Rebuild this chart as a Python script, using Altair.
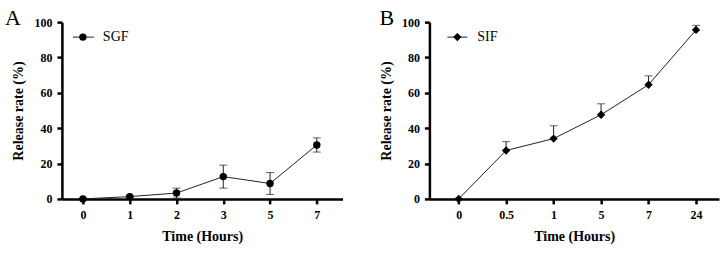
import altair as alt
import pandas as pd

# ---- data ----
a_time = ["0", "1", "2", "3", "5", "7"]
a_mean = [0.0, 1.3, 3.3, 12.6, 8.7, 30.5]
a_sd = [0.4, 0.5, 2.8, 6.5, 6.2, 4.0]
a_name = "SGF"

b_time = ["0", "0.5", "1", "5", "7", "24"]
b_mean = [0.0, 27.4, 34.1, 47.6, 64.6, 95.6]
b_sd = [0.3, 5.0, 7.3, 6.2, 5.0, 2.6]
b_name = "SIF"

y_ticks = [0, 20, 40, 60, 80, 100]

FONT = "'Liberation Serif', 'Times New Roman', Times, serif"


def panel(letter, times, mean, sd, name, shape, size, width, two_sided,
          pad, align, leg, letter_x):
    df = pd.DataFrame({"t": times, "m": mean, "s": sd})
    df["lo"] = df["m"] - df["s"]
    df["hi"] = df["m"] + df["s"]
    if not two_sided:
        df["lo"] = df["m"]

    common = dict(grid=False, labelFont=FONT, labelFontWeight="bold",
                  labelFontSize=12, labelColor="black", titleFont=FONT,
                  titleFontWeight="bold", titleFontSize=14,
                  titleColor="black", domainColor="black", domainWidth=2.5,
                  tickColor="black", tickWidth=2.5, tickSize=5)
    x_axis = alt.Axis(title="Time (Hours)", labelAngle=0,
                      titlePadding=9, labelPadding=6, **common)
    y_axis = alt.Axis(title="Release rate (%)", values=y_ticks,
                      titlePadding=8, labelPadding=5, labelOverlap=False,
                      **common)
    x_scale = alt.Scale(type="point", padding=pad, align=align)
    y_scale = alt.Scale(domain=[0, 100], nice=False)

    def X():
        return alt.X("t:N", sort=times, scale=x_scale, axis=x_axis)

    def Y(field):
        return alt.Y(field, type="quantitative", scale=y_scale, axis=y_axis)

    base = alt.Chart(df)
    line = base.mark_line(color="#222", strokeWidth=1).encode(x=X(), y=Y("m"))
    err = base.mark_rule(color="#222", strokeWidth=1).encode(
        x=X(), y=Y("lo"), y2="hi:Q")
    cap_hi = base.mark_tick(color="#222", thickness=1, size=8).encode(
        x=X(), y=Y("hi"))
    layers = [line, err, cap_hi]
    if two_sided:
        cap_lo = base.mark_tick(color="#222", thickness=1, size=8).encode(
            x=X(), y=Y("lo"))
        layers.append(cap_lo)
    pts = base.mark_point(shape=shape, filled=True, color="black",
                          opacity=1, size=size).encode(x=X(), y=Y("m"))
    layers.append(pts)

    # legend (line + marker + name)
    ldf = pd.DataFrame({"name": [name]})
    lbase = alt.Chart(ldf)
    lx0, lx1, lm, lt, ly = leg
    leg_line = lbase.mark_rule(color="#222", strokeWidth=1).encode(
        x=alt.value(lx0), x2=alt.value(lx1), y=alt.value(ly))
    leg_pt = lbase.mark_point(shape=shape, filled=True, color="black",
                              opacity=1, size=size).encode(
        x=alt.value(lm), y=alt.value(ly))
    leg_txt = lbase.mark_text(font=FONT, fontSize=14, align="left",
                              baseline="middle", color="black").encode(
        x=alt.value(lt), y=alt.value(ly), text="name:N")
    ttl = alt.Chart(pd.DataFrame({"l": [letter]})).mark_text(
        font=FONT, fontSize=22, align="left", baseline="alphabetic",
        color="black").encode(x=alt.value(letter_x), y=alt.value(3),
                              text="l:N")
    layers += [leg_line, leg_pt, leg_txt, ttl]
    return alt.layer(*layers).properties(width=width, height=177)


pa = panel("A", a_time, a_mean, a_sd, a_name, "circle", 55, 281, True,
           0.5, 0.45, (11, 32, 21, 41, 15), -57)
pb = panel("B", b_time, b_mean, b_sd, b_name, "diamond", 70, 290, False,
           0.55, 0.56, (18, 38, 28, 48, 15), -50)

chart = alt.hconcat(pa, pb, spacing=37).configure(
    background="white", padding={"left": 5, "right": 5, "top": 7,
                                 "bottom": 3}
).configure_view(
    stroke=None
)

chart.save("out.html", embed_options={"renderer": "svg", "actions": False})
